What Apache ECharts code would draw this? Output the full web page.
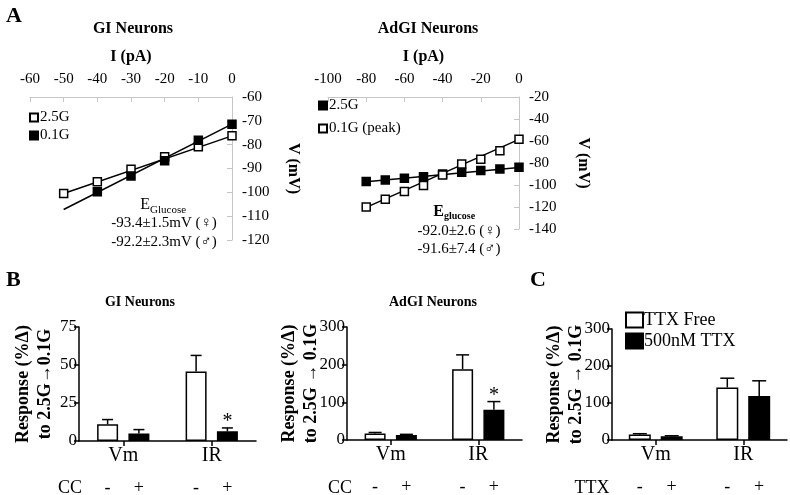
<!DOCTYPE html>
<html><head><meta charset="utf-8">
<script src="https://cdn.jsdelivr.net/npm/echarts@6/dist/echarts.min.js"></script>
<style>html,body{margin:0;padding:0;background:#fff}#c{width:790px;height:495px}</style>
</head><body><div id="c"></div>
<script>
// ---------- Panel A data ----------
const giCurrent25 = [-50, -40, -30, -20, -10, 0];
const giV25 = [-100.5, -95.6, -90.3, -85.1, -80.9, -76.3];
const giCurrent01 = [-40, -30, -20, -10, 0];
const giV01 = [-99.8, -93.1, -86.8, -78.1, -71.4];
const giFitX = [-50, 0];
const giFit25Y = [-100.5, -76.3];
const giFit01Y = [-107.2, -71.4];

const adCurrent = [-80, -70, -60, -50, -40, -30, -20, -10, 0];
const adV25 = [-96.9, -95.4, -93.9, -92.4, -90.0, -88.4, -86.9, -85.4, -83.9];
const adV01 = [-120.1, -112.9, -105.9, -100.5, -90.8, -80.9, -76.7, -68.8, -58.3];
const adFitX = [-80, 0];
const adFit25Y = [-97, -84];
const adFit01Y = [-120.3, -58.5];

// ---------- Panel B / C data ----------
const barCats = ['Vm', 'IR'];
const giOpen = [11.0, 45.7];
const giOpenErr = [3.1, 10.6];
const giFilled = [4.9, 6.4];
const giFilledErr = [2.6, 2.2];
const giSig = [false, true];

const adOpen = [17.5, 188];
const adOpenErr = [2.5, 38];
const adFilled = [13, 80];
const adFilledErr = [2, 22];
const adSig = [false, true];

const ttxOpen = [15, 142];
const ttxOpenErr = [2, 25];
const ttxFilled = [10, 119];
const ttxFilledErr = [1.5, 41];
const ttxSig = [false, false];
const signLabels = ['-', '+'];

const FONT = "'Liberation Serif','Times New Roman',serif";
const GRAY = '#c6c6c6';

function pair(xs, ys) { return xs.map((x, i) => [x, ys[i]]); }

function ivXAxis(gi, min, max, interval) {
  return {
    type: 'value', gridIndex: gi, position: 'top', min, max, interval,
    axisLine: { show: true, onZero: false, lineStyle: { color: GRAY, width: 1 } },
    axisTick: { show: true, inside: true, length: 5, lineStyle: { color: GRAY } },
    splitLine: { show: false },
    axisLabel: { color: '#000', fontFamily: FONT, fontSize: 15, margin: 10 },
    name: 'I (pA)', nameLocation: 'middle', nameGap: 32,
    nameTextStyle: { color: '#000', fontFamily: FONT, fontSize: 16, fontWeight: 'bold' }
  };
}
function ivYAxis(gi, min, max, interval, gap) {
  return {
    type: 'value', gridIndex: gi, position: 'right', min, max, interval,
    axisLine: { show: true, onZero: false, lineStyle: { color: GRAY, width: 1 } },
    axisTick: { show: true, inside: true, length: 5, lineStyle: { color: GRAY } },
    splitLine: { show: false },
    axisLabel: { color: '#000', fontFamily: FONT, fontSize: 15, margin: 10 },
    name: 'V (mV)', nameLocation: 'middle', nameGap: gap, nameRotate: -90,
    nameTextStyle: { color: '#000', fontFamily: FONT, fontSize: 16, fontWeight: 'bold' }
  };
}
function fitSeries(axi, xs, ys) {
  return { type: 'line', xAxisIndex: axi, yAxisIndex: axi, data: pair(xs, ys), symbol: 'none',
    lineStyle: { color: '#000', width: 1.5 }, silent: true, z: 2 };
}
function ptSeries(axi, name, xs, ys, open) {
  return { type: 'scatter', name, xAxisIndex: axi, yAxisIndex: axi, data: pair(xs, ys),
    symbol: 'rect', symbolSize: 8,
    itemStyle: { color: open ? '#fff' : '#000', borderColor: '#000', borderWidth: 1.5, opacity: 1 }, z: 3 };
}

function barXAxis(gi) {
  return {
    type: 'category', gridIndex: gi, data: barCats,
    axisLine: { show: true, lineStyle: { color: '#000', width: 1.5 } },
    axisTick: { show: true, alignWithLabel: true, length: 5, lineStyle: { color: '#000', width: 1.5 } },
    axisLabel: { color: '#000', fontFamily: FONT, fontSize: 20, margin: 5 }
  };
}
function barYAxis(gi, max, interval, name, gap) {
  return {
    type: 'value', gridIndex: gi, min: 0, max, interval,
    axisLine: { show: true, lineStyle: { color: '#000', width: 1.5 } },
    axisTick: { show: true, length: 5, lineStyle: { color: '#000', width: 1.5 } },
    splitLine: { show: false },
    axisLabel: { color: '#000', fontFamily: FONT, fontSize: 17, margin: 2 },
    name, nameLocation: 'middle', nameGap: gap, nameMoveOverlap: false,
    nameTextStyle: { color: '#000', fontFamily: FONT, fontSize: 18, fontWeight: 'bold', lineHeight: 22 }
  };
}
function barPanel(axi, names, open, openErr, filled, filledErr, sig, barW, gapRatio, capW) {
  const off = (barW + barW * gapRatio) / 2;
  const barStyle = (fill) => ({ color: fill, borderColor: '#000', borderWidth: 1.5 });
  const errData = barCats.map((c, i) => [i, open[i], openErr[i], filled[i], filledErr[i], sig[i] ? 1 : 0]);
  return [
    { type: 'bar', name: names[0], xAxisIndex: axi, yAxisIndex: axi, data: open, barWidth: barW,
      barGap: (gapRatio * 100) + '%', itemStyle: barStyle('#fff'), z: 2 },
    { type: 'bar', name: names[1], xAxisIndex: axi, yAxisIndex: axi, data: filled, barWidth: barW,
      barGap: (gapRatio * 100) + '%', itemStyle: barStyle('#000'), z: 2 },
    { type: 'custom', xAxisIndex: axi, yAxisIndex: axi, data: errData, clip: false, silent: true, z: 3,
      renderItem: function (params, api) {
        const idx = api.value(0);
        const children = [];
        [[1, 2, -1], [3, 4, 1]].forEach(([vi, ei, s]) => {
          const v = api.value(vi), e = api.value(ei);
          const p0 = api.coord([idx, v]);
          const p1 = api.coord([idx, v + e]);
          const x = p0[0] + s * off;
          children.push({ type: 'line', shape: { x1: x, y1: p0[1], x2: x, y2: p1[1] }, style: { stroke: '#000', lineWidth: 1.5 } });
          children.push({ type: 'line', shape: { x1: x - capW / 2, y1: p1[1], x2: x + capW / 2, y2: p1[1] }, style: { stroke: '#000', lineWidth: 1.5 } });
          if (s === 1 && api.value(5) === 1) {
            children.push({ type: 'text', style: { text: '*', x: x, y: p1[1] + 4, textAlign: 'center', textVerticalAlign: 'bottom', font: '20px ' + FONT, fill: '#000' } });
          }
        });
        const base = api.coord([idx, 0]);
        signLabels.forEach((t, k) => {
          children.push({ type: 'text', style: { text: t, x: base[0] + (k === 0 ? -off : off), y: base[1] + 47,
            textAlign: 'center', textVerticalAlign: 'middle', font: '18px ' + FONT, fill: '#000' } });
        });
        return { type: 'group', children };
      }
    }
  ];
}

function txt(text, x, y, size, bold, align, valign) {
  return { type: 'text', silent: true, style: { text, x, y, fill: '#000',
    font: (bold ? 'bold ' : '') + size + 'px ' + FONT, textAlign: align || 'center', textVerticalAlign: valign || 'middle' } };
}

const legendBase = { orient: 'vertical', selectedMode: false, icon: 'rect', padding: 0,
  formatter: (n) => n.split('|')[1], itemGap: 3,
  textStyle: { color: '#000', fontFamily: FONT, fontSize: 15, padding: [0, 0, 0, -3] } };

const option = {
  animation: false,
  backgroundColor: '#fff',
  grid: [
    { left: 30, top: 97, width: 202, height: 143 },
    { left: 328, top: 97, width: 191, height: 132 },
    { left: 79, top: 327, width: 177, height: 114 },
    { left: 347, top: 327, width: 175, height: 113 },
    { left: 612, top: 329, width: 175, height: 111 }
  ],
  xAxis: [ivXAxis(0, -60, 0, 10), ivXAxis(1, -100, 0, 20), barXAxis(2), barXAxis(3), barXAxis(4)],
  yAxis: [ivYAxis(0, -120, -60, 10, 53), ivYAxis(1, -140, -20, 20, 56),
    barYAxis(2, 75, 25, 'Response (%Δ)\nto 2.5G→0.1G', 23),
    barYAxis(3, 300, 100, 'Response (%Δ)\nto 2.5G → 0.1G', 25),
    barYAxis(4, 300, 100, 'Response (%Δ)\nto 2.5G → 0.1G', 25)],
  legend: [
    Object.assign({}, legendBase, { left: 29, top: 110, itemWidth: 8, itemHeight: 8, data: ['GI|2.5G', 'GI|0.1G'] }),
    Object.assign({}, legendBase, { left: 318, top: 98, itemWidth: 8, itemHeight: 8, itemGap: 8, data: ['Ad|2.5G', 'Ad|0.1G (peak)'] }),
    Object.assign({}, legendBase, { left: 625, top: 311, itemWidth: 17, itemHeight: 15, itemGap: 3,
      textStyle: { color: '#000', fontFamily: FONT, fontSize: 18, padding: [0, 0, 0, -4] },
      data: ['C|TTX Free', 'C|500nM TTX'] })
  ],
  series: [
    fitSeries(0, giFitX, giFit25Y), fitSeries(0, giFitX, giFit01Y),
    ptSeries(0, 'GI|2.5G', giCurrent25, giV25, true), ptSeries(0, 'GI|0.1G', giCurrent01, giV01, false),
    fitSeries(1, adFitX, adFit25Y), fitSeries(1, adFitX, adFit01Y),
    ptSeries(1, 'Ad|2.5G', adCurrent, adV25, false), ptSeries(1, 'Ad|0.1G (peak)', adCurrent, adV01, true),
    ...barPanel(2, ['B1|open', 'B1|filled'], giOpen, giOpenErr, giFilled, giFilledErr, giSig, 21, 0.49, 11),
    ...barPanel(3, ['B2|open', 'B2|filled'], adOpen, adOpenErr, adFilled, adFilledErr, adSig, 21, 0.49, 13),
    ...barPanel(4, ['C|TTX Free', 'C|500nM TTX'], ttxOpen, ttxOpenErr, ttxFilled, ttxFilledErr, ttxSig, 22, 0.45, 14)
  ],
  graphic: [
    txt('A', 6, 16, 22, true, 'left'),
    txt('GI Neurons', 133, 29, 16, true),
    txt('AdGI Neurons', 428, 29, 16, true),
    txt('E', 150, 205, 16, false, 'right'),
    txt('Glucose', 150, 210, 11, false, 'left'),
    txt('-93.4±1.5mV (♀)', 164, 223, 15),
    txt('-92.2±2.3mV (♂)', 164, 242, 15),
    txt('E', 444, 212, 16, true, 'right'),
    txt('glucose', 444, 216, 10, true, 'left'),
    txt('-92.0±2.6 (♀)', 459, 231, 15),
    txt('-91.6±7.4 (♂)', 459, 249, 15),
    txt('B', 6, 280, 22, true, 'left'),
    txt('C', 530, 280, 22, true, 'left'),
    txt('GI Neurons', 140, 302, 14, true),
    txt('AdGI Neurons', 433, 302, 14, true),
    txt('CC', 70, 488, 18),
    txt('CC', 340, 488, 18),
    txt('TTX', 592, 488, 18)
  ]
};
echarts.init(document.getElementById('c'), null, { renderer: 'canvas' }).setOption(option);
</script></body></html>
